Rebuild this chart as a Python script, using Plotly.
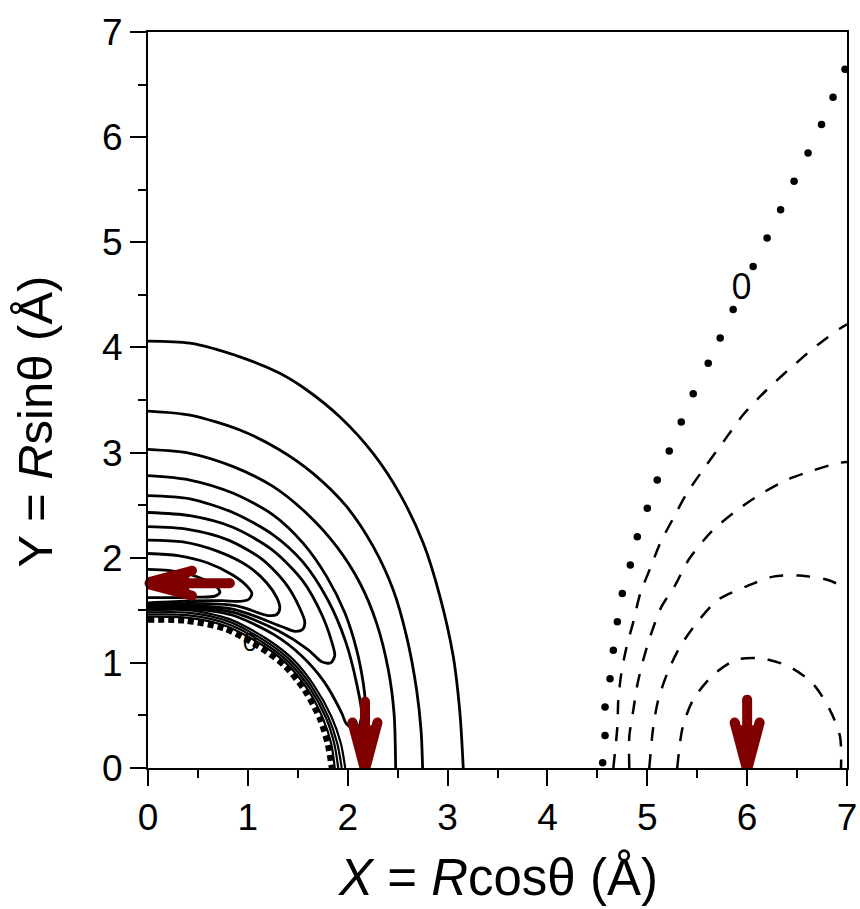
import math
import plotly.graph_objects as go

# ---------------------------------------------------------------- axes
x_tick_vals = [0, 1, 2, 3, 4, 5, 6, 7]
y_tick_vals = [0, 1, 2, 3, 4, 5, 6, 7]
x_title = "<i>X</i> = <i>R</i>cos\u03b8 (\u00c5)"
y_title = "Y = <i>R</i>sin\u03b8 (\u00c5)"

# ------------------------------------------- positive contours (solid)
# outer arcs running from the Y axis down to the X axis
arc_1 = [(0, 4.06), (0.42, 4.04), (0.92, 3.91), (1.32, 3.754), (1.59, 3.595),
         (1.92, 3.34), (2.256, 2.99), (2.52, 2.61), (2.757, 2.137),
         (2.924, 1.63), (3.057, 1.06), (3.124, 0.52), (3.157, 0)]
arc_2 = [(0, 3.395), (0.42, 3.357), (0.92, 3.215), (1.32, 3.025), (1.655, 2.80),
         (1.99, 2.485), (2.256, 2.105), (2.456, 1.693), (2.59, 1.249),
         (2.69, 0.742), (2.735, 0.35), (2.75, 0)]
arc_3 = [(0, 3.03), (0.42, 2.993), (0.854, 2.866), (1.255, 2.676), (1.59, 2.42),
         (1.89, 2.105), (2.123, 1.757), (2.29, 1.376), (2.407, 0.932),
         (2.464, 0.52), (2.48, 0)]
arc_4 = [(0, 2.78), (0.42, 2.739), (0.854, 2.613), (1.255, 2.406), (1.555, 2.137),
         (1.79, 1.82), (1.973, 1.471), (2.09, 1.122), (2.156, 0.806),
         (2.176, 0.63), (2.183, 0)]

# tongue-shaped contours that leave and re-enter the Y axis
loop_1 = [(0, 1.89), (0.2, 1.88), (0.4, 1.845), (0.58, 1.785), (0.69, 1.72),
          (0.72, 1.67), (0.67, 1.635), (0.5, 1.625), (0.25, 1.62), (0, 1.62)]
loop_2 = [(0, 2.04), (0.3, 2.02), (0.6, 1.95), (0.84, 1.84), (0.98, 1.74),
          (1.04, 1.66), (1.01, 1.605), (0.92, 1.585), (0.742, 1.591),
          (0.426, 1.589), (0, 1.57)]
loop_3 = [(0, 2.168), (0.35, 2.15), (0.7, 2.06), (1.0, 1.92), (1.19, 1.76),
          (1.29, 1.62), (1.32, 1.52), (1.29, 1.46), (1.2, 1.45),
          (0.89, 1.5415), (0.419, 1.565), (0, 1.55)]
loop_4 = [(0, 2.295), (0.4, 2.27), (0.8, 2.17), (1.15, 1.98), (1.39, 1.74),
          (1.52, 1.52), (1.57, 1.39), (1.55, 1.32), (1.47, 1.30),
          (1.3435, 1.3435), (0.87, 1.5068), (0.414, 1.5454), (0, 1.54)]
loop_5 = [(0, 2.43), (0.42, 2.40), (0.85, 2.29), (1.25, 2.07), (1.55, 1.78),
          (1.74, 1.46), (1.84, 1.20), (1.87, 1.07), (1.83, 1.00), (1.74, 1.01),
          (1.6056, 1.1243), (1.3046, 1.3046), (0.855, 1.4809), (0.41, 1.531),
          (0, 1.53)]
loop_6 = [(0, 2.59), (0.42, 2.56), (0.85, 2.43), (1.25, 2.22), (1.55, 1.96),
          (1.8, 1.6), (1.98, 1.2), (2.09, 0.8), (2.14, 0.5), (2.09, 0.36),
          (1.9856, 0.422), (1.9415, 0.5202), (1.7628, 0.822), (1.532, 1.0726),
          (1.2657, 1.2657), (0.84, 1.4549), (0.4063, 1.5165), (0, 1.52)]

# tightly packed contours hugging the repulsive wall
inner_1 = [(0, 1.44), (0.383, 1.43), (0.78, 1.351), (1.16, 1.16), (1.401, 0.981),
           (1.60, 0.746), (1.753, 0.47), (1.836, 0.2255), (1.87, 0)]
inner_2 = [(0, 1.46), (0.3895, 1.4537), (0.7925, 1.3726), (1.1773, 1.1773),
           (1.4213, 0.9952), (1.6223, 0.7565), (1.7821, 0.4775),
           (1.8659, 0.2292), (1.905, 0)]
inner_3 = [(0, 1.48), (0.396, 1.4778), (0.805, 1.3943), (1.195, 1.195),
           (1.4418, 1.0095), (1.6449, 0.767), (1.8062, 0.484),
           (1.8957, 0.2328), (1.94, 0)]
inner_4 = [(0, 1.50), (0.4024, 1.502), (0.8175, 1.416), (1.2127, 1.2127),
           (1.4623, 1.0239), (1.6676, 0.7776), (1.8352, 0.4917),
           (1.9304, 0.2371), (1.975, 0)]

# ------------------------------------------------ zero contours (dotted)
zero_inner = [(0, 1.41), (0.375, 1.401), (0.765, 1.325), (1.138, 1.138),
              (1.376, 0.964), (1.572, 0.733), (1.724, 0.462), (1.801, 0.221),
              (1.84, 0)]
zero_outer = [(4.553, 0.05), (4.577, 0.31), (4.577, 0.58), (4.627, 0.85),
              (4.66, 1.12), (4.70, 1.39), (4.75, 1.66), (4.83, 1.93),
              (4.90, 2.20), (5.0, 2.47), (5.10, 2.74), (5.22, 3.015),
              (5.34, 3.29), (5.46, 3.56), (5.61, 3.85), (5.73, 4.09),
              (5.86, 4.36), (6.06, 4.77), (6.20, 5.04), (6.335, 5.31),
              (6.47, 5.58), (6.61, 5.85), (6.745, 6.12), (6.86, 6.38),
              (6.98, 6.645)]
zero_label_outer = (5.945, 4.55)
zero_label_inner = (1.02, 1.17)

# ------------------------------------------- negative contours (dashed)
neg_1 = [(4.66, 0), (4.70, 0.39), (4.71, 0.65), (4.74, 0.90), (4.79, 1.14),
         (4.86, 1.39), (4.93, 1.66), (5.03, 1.90), (5.13, 2.14), (5.26, 2.375),
         (5.395, 2.61), (5.58, 2.865), (5.76, 3.10), (5.96, 3.36),
         (6.195, 3.595), (6.43, 3.80), (6.70, 4.02), (6.93, 4.18), (7.0, 4.22)]
neg_2 = [(4.82, 0), (4.82, 0.30), (4.86, 0.55), (4.90, 0.79), (4.96, 1.03),
         (5.04, 1.28), (5.14, 1.53), (5.28, 1.74), (5.42, 1.99), (5.645, 2.25),
         (5.895, 2.45), (6.145, 2.61), (6.395, 2.74), (6.66, 2.83),
         (6.91, 2.90), (7.0, 2.91)]
neg_3 = [(5.02, 0), (5.06, 0.39), (5.11, 0.65), (5.20, 0.90), (5.32, 1.14),
         (5.495, 1.38), (5.71, 1.60), (6.0, 1.73), (6.26, 1.82), (6.53, 1.83),
         (6.80, 1.79), (7.0, 1.71)]
neg_4 = [(5.30, 0), (5.355, 0.39), (5.46, 0.65), (5.66, 0.885), (5.895, 1.03),
         (6.16, 1.04), (6.43, 0.96), (6.66, 0.80), (6.83, 0.55), (6.93, 0.30),
         (6.94, 0)]

# ------------------------------------------------------------- arrows
arrow_tails = [(0.82, 1.757), (2.173, 0.63), (6.0, 0.65)]
arrow_tips = [(-0.03, 1.757), (2.173, -0.015), (6.0, -0.015)]

# ------------------------------------------------------------- layout
W, H = 860, 909
MARGIN = dict(l=148, r=13, t=32, b=141)
X_RANGE = [0, 7]
Y_RANGE = [0, 7]
PX_X = (W - MARGIN["l"] - MARGIN["r"]) / (X_RANGE[1] - X_RANGE[0])
PX_Y = (H - MARGIN["t"] - MARGIN["b"]) / (Y_RANGE[1] - Y_RANGE[0])

ARROW_RED = "#800000"
FONT = "Arial, Liberation Sans, sans-serif"

fig = go.Figure()


def xs(pts):
    return [p[0] for p in pts]


def ys(pts):
    return [p[1] for p in pts]


# contour label partly hidden beneath the wall contours
fig.add_trace(go.Scatter(
    x=[zero_label_inner[0]], y=[zero_label_inner[1]], mode="text", text=["0"],
    textfont=dict(family="Open Sans, Arial", size=26, color="black"),
    hoverinfo="skip", showlegend=False))

for line in [arc_1, arc_2, arc_3, arc_4,
             loop_1, loop_2, loop_3, loop_4, loop_5, loop_6]:
    fig.add_trace(go.Scatter(
        x=xs(line), y=ys(line), mode="lines",
        line=dict(color="black", width=2.8, shape="spline", smoothing=0.8),
        hoverinfo="skip", showlegend=False))

for line in [inner_1, inner_2, inner_3, inner_4]:
    fig.add_trace(go.Scatter(
        x=xs(line), y=ys(line), mode="lines",
        line=dict(color="black", width=2.2, shape="spline", smoothing=0.8),
        hoverinfo="skip", showlegend=False))

fig.add_trace(go.Scatter(
    x=xs(zero_inner), y=ys(zero_inner), mode="lines",
    line=dict(color="black", width=6, dash="6px,4px", shape="spline",
              smoothing=0.8),
    hoverinfo="skip", showlegend=False))

fig.add_trace(go.Scatter(
    x=xs(zero_outer), y=ys(zero_outer), mode="markers",
    marker=dict(color="black", size=7.5, symbol="circle"),
    hoverinfo="skip", showlegend=False))

for line in [neg_1, neg_2, neg_3, neg_4]:
    fig.add_trace(go.Scatter(
        x=xs(line), y=ys(line), mode="lines",
        line=dict(color="black", width=2.5, dash="14px,13px", shape="spline",
                  smoothing=0.8),
        hoverinfo="skip", showlegend=False))

fig.add_trace(go.Scatter(
    x=[zero_label_outer[0]], y=[zero_label_outer[1]], mode="text", text=["0"],
    textfont=dict(family="Open Sans, Arial", size=36, color="black"),
    hoverinfo="skip", showlegend=False))

# arrows: round-capped thick shaft and two thick barbs with the gap filled,
# built in pixel space so every arrow keeps the same shape
BARB_LEN, BARB_HALF = 47.0, 12.5
STROKE = 10


def to_px(p):
    return p[0] * PX_X, p[1] * PX_Y


def to_data(p):
    return p[0] / PX_X, p[1] / PX_Y


for tail, tip in zip(arrow_tails, arrow_tips):
    tx, ty = to_px(tail)
    hx, hy = to_px(tip)
    d = math.hypot(hx - tx, hy - ty)
    ux, uy = (hx - tx) / d, (hy - ty) / d
    nx, ny = -uy, ux

    def at(back, side):
        return to_data((hx - ux * back + nx * side, hy - uy * back + ny * side))

    tip_d = at(0, 0)
    left, right = at(BARB_LEN, BARB_HALF), at(BARB_LEN, -BARB_HALF)
    shaft_end = at(STROKE * 0.8, 0)

    # filled wedge between the barbs
    wedge = [tip_d, left, at(BARB_LEN - 6, 0), right, tip_d]
    fig.add_trace(go.Scatter(
        x=xs(wedge), y=ys(wedge), mode="lines", fill="toself",
        fillcolor=ARROW_RED, line=dict(color=ARROW_RED, width=1),
        cliponaxis=False, hoverinfo="skip", showlegend=False))
    # shaft and barbs as separate segments (no sharp joins)
    seg_x = [tail[0], shaft_end[0], None, left[0], tip_d[0], None,
             right[0], tip_d[0]]
    seg_y = [tail[1], shaft_end[1], None, left[1], tip_d[1], None,
             right[1], tip_d[1]]
    fig.add_trace(go.Scatter(
        x=seg_x, y=seg_y, mode="lines",
        line=dict(color=ARROW_RED, width=STROKE), cliponaxis=False,
        hoverinfo="skip", showlegend=False))
    # rounded ends
    caps = [tail, left, right, at(STROKE * 0.45, 0)]
    fig.add_trace(go.Scatter(
        x=xs(caps), y=ys(caps), mode="markers",
        marker=dict(color=ARROW_RED, size=STROKE, symbol="circle",
                    line=dict(width=0)),
        cliponaxis=False, hoverinfo="skip", showlegend=False))

axis_common = dict(
    showgrid=False, zeroline=False, showline=True, mirror=True,
    linecolor="black", linewidth=2, automargin=False,
    ticks="outside", ticklen=16, tickwidth=2, tickcolor="black",
    tickfont=dict(family=FONT, size=37, color="black"),
    minor=dict(ticks="outside", ticklen=8, tickwidth=2, tickcolor="black",
               dtick=0.5, showgrid=False),
)

fig.update_xaxes(range=X_RANGE, tickvals=x_tick_vals,
                 ticktext=[str(v) for v in x_tick_vals], **axis_common)
fig.update_yaxes(range=Y_RANGE, tickvals=y_tick_vals,
                 ticktext=[str(v) for v in y_tick_vals], **axis_common)

fig.update_layout(
    width=W, height=H, margin=MARGIN,
    paper_bgcolor="white", plot_bgcolor="white",
    showlegend=False,
    annotations=[
        dict(text=x_title, xref="paper", yref="paper", x=0.5, y=-0.149,
             xanchor="center", yanchor="middle", showarrow=False,
             font=dict(family=FONT, size=51, color="black")),
        dict(text=y_title, xref="paper", yref="paper", x=-0.161, y=0.4715,
             xanchor="center", yanchor="middle", showarrow=False,
             textangle=-90,
             font=dict(family=FONT, size=49, color="black")),
    ],
)

fig.write_html("out.html")
